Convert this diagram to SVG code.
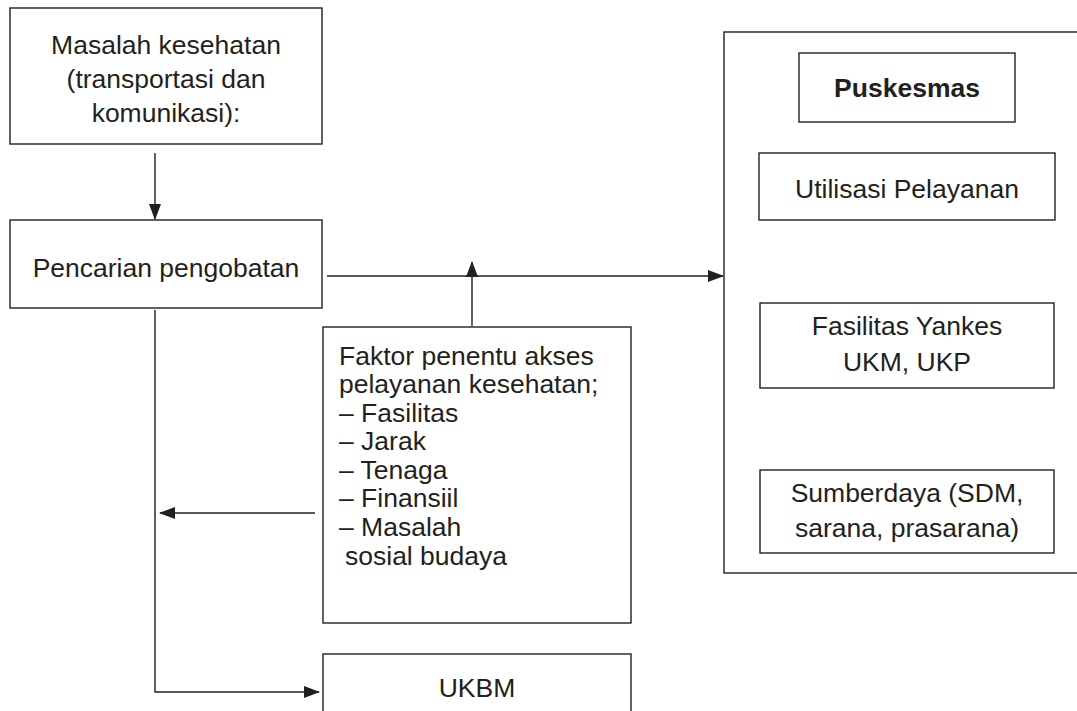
<svg xmlns="http://www.w3.org/2000/svg" width="1077" height="711" viewBox="0 0 1077 711">
<style>
.box{fill:#fff;stroke:#231f20;stroke-width:1.4}
.t{font-family:"Liberation Sans",Arial,sans-serif;font-size:26.5px;fill:#231f20}
.c{text-anchor:middle}
.b{font-weight:bold}
.ln{fill:none;stroke:#231f20;stroke-width:1.4}
</style>
<defs>
<marker id="ah" markerWidth="16" markerHeight="12" refX="15" refY="6" orient="auto" markerUnits="userSpaceOnUse">
<path d="M0,0 L16,6 L0,12 Z" fill="#231f20"/>
</marker>
</defs>
<rect width="1077" height="711" fill="#fff"/>
<g id="connectors">
<line class="ln" x1="155" y1="153" x2="155" y2="219" marker-end="url(#ah)"/>
<line class="ln" x1="327" y1="276" x2="723" y2="276" marker-end="url(#ah)"/>
<line class="ln" x1="472" y1="326" x2="472" y2="262" marker-end="url(#ah)"/>
<line class="ln" x1="315" y1="513" x2="160" y2="513" marker-end="url(#ah)"/>
<polyline class="ln" points="155,310 155,692 319,692" marker-end="url(#ah)"/>
<line class="ln" x1="907" y1="293" x2="907" y2="233" marker-end="url(#ah)"/>
<line class="ln" x1="907" y1="458" x2="907" y2="397" marker-end="url(#ah)"/>
</g>
<g id="masalah">
<rect class="box" x="10" y="8" width="312" height="136"/>
<text class="t c" x="166" y="54">Masalah kesehatan</text>
<text class="t c" x="166" y="88">(transportasi dan</text>
<text class="t c" x="166" y="122">komunikasi):</text>
</g>
<g id="pencarian">
<rect class="box" x="10" y="220" width="312" height="88"/>
<text class="t c" x="166" y="277">Pencarian pengobatan</text>
</g>
<g id="faktor">
<rect class="box" x="323" y="327" width="308" height="296"/>
<text class="t" x="339" y="365">Faktor penentu akses</text>
<text class="t" x="339" y="393">pelayanan kesehatan;</text>
<text class="t" x="339" y="422">– Fasilitas</text>
<text class="t" x="339" y="450">– Jarak</text>
<text class="t" x="339" y="479">– Tenaga</text>
<text class="t" x="339" y="507">– Finansiil</text>
<text class="t" x="339" y="536">– Masalah</text>
<text class="t" x="345" y="565">sosial budaya</text>
</g>
<g id="ukbm">
<rect class="box" x="323" y="654" width="308" height="70"/>
<text class="t c" x="477" y="697">UKBM</text>
</g>
<g id="puskesmas-group">
<rect class="box" x="724" y="32" width="360" height="541"/>
</g>
<g id="puskesmas">
<rect class="box" x="799" y="53" width="216" height="69"/>
<text class="t c b" x="907" y="97">Puskesmas</text>
</g>
<g id="utilisasi">
<rect class="box" x="759" y="153" width="296" height="67"/>
<text class="t c" x="907" y="198">Utilisasi Pelayanan</text>
</g>
<g id="fasilitas">
<rect class="box" x="760" y="303" width="294" height="85"/>
<text class="t c" x="907" y="335">Fasilitas Yankes</text>
<text class="t c" x="907" y="371">UKM, UKP</text>
</g>
<g id="sumberdaya">
<rect class="box" x="760" y="470" width="294" height="83"/>
<text class="t c" x="907" y="502">Sumberdaya (SDM,</text>
<text class="t c" x="907" y="537">sarana, prasarana)</text>
</g>
</svg>
